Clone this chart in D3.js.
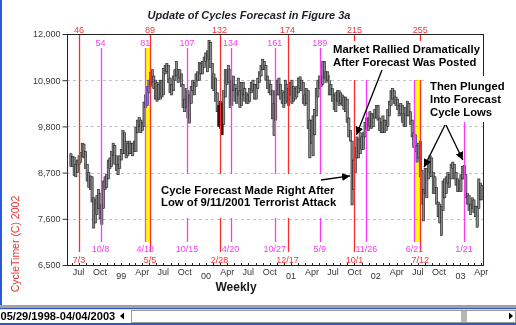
<!DOCTYPE html>
<html>
<head>
<meta charset="utf-8">
<script src="https://cdn.jsdelivr.net/npm/d3@7"></script>
<style>
  html, body { margin: 0; padding: 0; background: #fff; }
  svg { display: block; font-family: "Liberation Sans", Arial, sans-serif; }
</style>
</head>
<body>
<svg id="chart" width="516" height="325"></svg>
<script>
// ---------- data ----------
// Weekly bars (Friday weeks), each entry is [high, low]
const firstWeek = "1998-05-29";
const bars1998 = [
  [9150,8850],[9080,8850],[9070,8630],[8900,8600],[9000,8700],[9100,8900],[9180,8950],[9400,9080],
  [9380,9050],[9200,8800],[8900,8500],[8700,8350],[8620,8300],[8600,8000],[8100,7380],[8050,7500],
  [8150,7700],[8300,7850],[8200,7600],[7950,7470],[8500,7850],[8600,8300],[8650,8350],[9000,8550],
  [9050,8800],[9200,8850],[9400,9100],[9350,8900],[9100,8750],[8900,8650],[9100,8800],[9250,9000]
];
const bars1999 = [
  [9700,9150],[9650,9150],[9450,9050],[9400,9100],[9450,9150],[9400,9150],[9400,9100],[9450,9200],
  [9780,9200],[9950,9650],[10010,9800],[9950,9650],[9900,9700],[10380,9800],[10550,10250],[10750,10300],
  [10900,10600],[11080,10750],[11150,10850],[11000,10700],[10900,10450],[10850,10400],[10800,10450],[10900,10450],
  [10900,10500],[11180,10550],[11250,11050],[11300,11100],[11250,10850],[10950,10600],[10800,10550],[11000,10650],
  [11150,10900],[11350,11000],[11150,10850],[11150,10950],[11050,10750],[10800,10250],[10450,10150],[10700,10250],
  [10650,10000],[10550,9880],[10750,10350],[10900,10650],[10850,10550],[11050,10750],[11100,10900],[11320,10900],
  [11300,11050],[11350,11050],[11450,11200],[11550,11350]
];
const bars2000 = [
  [11600,11100],[11850,11400],[11800,11200],[11300,10700],[11050,10650],[10950,10400],[10600,10150],[10300,9800],
  [10400,9750],[10350,9600],[10650,9850],[11150,10500],[11150,10800],[11250,10850],[11150,10250],[10900,10300],
  [11000,10650],[10800,10400],[10700,10350],[10950,10550],[10650,10250],[10850,10300],[10850,10550],[10700,10400],
  [10600,10350],[10550,10350],[10700,10400],[10850,10600],[10900,10650],[10800,10450],[10800,10450],[10950,10700],
  [11100,10850],[11250,11000],[11400,11150],[11350,11150],[11250,10900],[11000,10700],[10900,10600],[10800,10550],
  [10650,9980],[10350,9580],[10650,9950],[10900,10550],[10950,10550],[10800,10450],[10650,10350],[10600,10250],
  [10900,10350],[10800,10400],[10700,10300],[10850,10550]
];
const bars2001 = [
  [10900,10350],[10750,10400],[10700,10450],[10750,10500],[10950,10600],[10980,10700],[10900,10650],[10850,10350],
  [10550,10300],[10700,10350],[10650,9750],[9950,9050],[9950,9400],[10050,9100],[10200,9600],[10700,10050],
  [10900,10500],[11000,10700],[11000,10750],[11350,10800],[11350,10950],[11100,10850],[11100,10900],[11000,10550],
  [10800,10550],[10700,10400],[10550,10200],[10600,10150],[10650,10400],[10650,10300],[10600,10350],[10550,10300],
  [10500,10200],[10500,10150],[10450,9900],[10000,9550],[9700,9450],[9450,7930],[9000,8300],[9300,8700],
  [9550,9050],[9500,9050],[9650,9150],[9550,9250],[9650,9250],[9900,9550],[10000,9750],[10000,9700],
  [10150,9800],[10100,9750],[10100,9800],[10200,10000]
];
const bars2002 = [
  [10300,10000],[10300,9950],[10000,9700],[9900,9650],[10050,9650],[9950,9650],[9950,9700],[10200,9800],
  [10400,10050],[10650,10300],[10700,10450],[10650,10350],[10500,10300],[10450,10200],[10300,10050],[10350,10100],
  [10300,9900],[10100,9800],[10250,9800],[10400,10050],[10350,10050],[10150,9850],[9950,9550],[9650,9300],
  [9600,9200],[9350,8950],[9400,9050],[9450,8600],[8750,7950],[8300,7550],[8800,8200],[8800,8100],
  [8950,8550],[9100,8700],[9050,8600],[8700,8200],[8600,8200],[8350,7950],[8000,7650],[7950,7500],
  [7900,7200],[8500,7800],[8550,8100],[8600,8200],[8700,8450],[8650,8350],[8900,8550],[8950,8800],
  [8900,8550],[8700,8400],[8550,8250],[8500,8250]
];
const bars2003 = [
  [8650,8250],[8850,8550],[8870,8550],[8650,8100],[8200,7950],[8150,7800],[7950,7700],[8100,7850],
  [8050,7750],[7900,7650],[7900,7400],[8550,7850],[8450,8050],[8400,8050]
];

const yTicks = [6500, 7600, 8700, 9800, 10900, 12000];
const monthNames = ["Jan","Feb","Mar","Apr","May","Jun","Jul","Aug","Sep","Oct","Nov","Dec"];

// Cycle markers: red = forecast turns, magenta = forecast lows
const redCycles = [
  {n: 46,  date: "1998-07-03"}, {n: 89,  date: "1999-05-05"}, {n: 132, date: "2000-02-28"},
  {n: 174, date: "2000-12-17"}, {n: 215, date: "2001-10-01"}, {n: 255, date: "2002-07-12"}
];
const magentaCycles = [
  {n: 54,  date: "1998-10-08"}, {n: 81,  date: "1999-04-18"}, {n: 107, date: "1999-10-15"},
  {n: 134, date: "2000-04-20"}, {n: 161, date: "2000-10-27"}, {n: 189, date: "2001-05-09"},
  {n: null, date: "2001-11-26"}, {n: null, date: "2002-06-21"}, {n: null, date: "2003-01-21"}
];
// Forecast windows (shaded) and turn window (dark bars)
const forecastWindows = [["1999-04-18","1999-05-05"], ["2002-06-21","2002-07-12"]];
const turnWindows = [["2000-02-21","2000-03-12"]];

const title = "Update of Cycles Forecast in Figure 3a";
const xTitle = "Weekly";
const credit = "CycleTimer (C) 2002";
const rangeText = "05/29/1998-04/04/2003";
const notes = {
  rally:  ["Market Rallied Dramatically", "After Forecast Was Posted"],
  plunge: ["Then Plunged", "Into Forecast", "Cycle Lows"],
  sept:   ["Cycle Forecast Made Right After", "Low of 9/11/2001 Terrorist Attack"]
};
// Arrow targets in data space
const arrowTargets = {
  rally:  {date: "2001-10-10", value: 9600},
  sept:   {date: "2001-09-12", value: 8620},
  plungeA:{date: "2002-07-28", value: 8830},
  plungeB:{date: "2003-01-11", value: 9000}
};

// ---------- setup ----------
const parse = d3.utcParse("%Y-%m-%d");
const start = parse(firstWeek);
const rows = [].concat(bars1998, bars1999, bars2000, bars2001, bars2002, bars2003)
  .map((b, i) => ({date: d3.utcWeek.offset(start, i), hi: b[0], lo: b[1]}));

const svg = d3.select("#chart");
const L = 67, R = 483, T = 34, B = 265;

const x = d3.scaleUtc().domain([parse("1998-05-12"), parse("2003-04-08")]).range([L, R]);
const y = d3.scaleLinear().domain([6500, 12000]).range([B, T]);

const RED = "#ff2a2a", RED_T = "#f03434", MAG = "#ff38ff", MAG_T = "#f040f0";

svg.append("rect").attr("width", 516).attr("height", 325).attr("fill", "#fff");

// gridlines
svg.append("g").selectAll("line").data(yTicks.filter(v => v > 6500 && v < 12000)).join("line")
  .attr("x1", L).attr("x2", R)
  .attr("y1", d => Math.round(y(d)) + 0.5).attr("y2", d => Math.round(y(d)) + 0.5)
  .attr("stroke", "#c4c4c4").attr("stroke-dasharray", "3,3");

// price bars
const inWin = (d, wins) => wins.some(w => d >= parse(w[0]) && d <= parse(w[1]));
svg.append("g").selectAll("rect").data(rows).join("rect")
  .attr("x", d => x(d.date) - 1.1)
  .attr("width", 2.2)
  .attr("y", d => y(d.hi))
  .attr("height", d => y(d.lo) - y(d.hi))
  .attr("fill", d => inWin(d.date, turnWindows) ? "#4e0606" : "#8c8c8c")
  .attr("stroke", d => inWin(d.date, turnWindows) ? "#2a0000" : "#1c1c1c")
  .attr("stroke-width", 0.6);

// shaded forecast windows: difference blend turns white to yellow, black to blue
svg.append("g").selectAll("rect").data(forecastWindows).join("rect")
  .attr("x", d => Math.round(x(parse(d[0]))) - 0.5)
  .attr("width", d => Math.round(x(parse(d[1]))) - Math.round(x(parse(d[0]))) + 1)
  .attr("y", 48).attr("height", 242 - 48)
  .attr("fill", "#0000ff")
  .style("mix-blend-mode", "difference");

// cycle lines
svg.append("g").selectAll("line").data(redCycles).join("line")
  .attr("x1", d => Math.round(x(parse(d.date))) + 0.5).attr("x2", d => Math.round(x(parse(d.date))) + 0.5)
  .attr("y1", T).attr("y2", 252).attr("stroke", RED).attr("stroke-width", 1.3);
svg.append("g").selectAll("line").data(magentaCycles).join("line")
  .attr("x1", d => Math.round(x(parse(d.date))) - 0.5).attr("x2", d => Math.round(x(parse(d.date))) - 0.5)
  .attr("y1", 48).attr("y2", 242).attr("stroke", MAG).attr("stroke-width", 1.3);

// cycle labels
const md = d3.utcFormat("%-m/%-d");
const lab = svg.append("g").attr("font-size", 9).attr("text-anchor", "middle");
lab.selectAll(".rt").data(redCycles).join("text").attr("class", "rt")
  .attr("x", d => x(parse(d.date))).attr("y", 32.5).attr("fill", RED_T).text(d => d.n);
lab.selectAll(".rb").data(redCycles).join("text").attr("class", "rb")
  .attr("x", d => x(parse(d.date))).attr("y", 262.5).attr("fill", RED_T).text(d => md(parse(d.date)));
lab.selectAll(".mt").data(magentaCycles.filter(d => d.n !== null)).join("text").attr("class", "mt")
  .attr("x", d => x(parse(d.date)) - 1).attr("y", 46).attr("fill", MAG_T).text(d => d.n);
lab.selectAll(".mb").data(magentaCycles).join("text").attr("class", "mb")
  .attr("x", d => x(parse(d.date)) - 1).attr("y", 251.5).attr("fill", MAG_T).text(d => md(parse(d.date)));

// frame
svg.append("rect").attr("x", L + 0.5).attr("y", T + 0.5).attr("width", R - L).attr("height", B - T)
  .attr("fill", "none").attr("stroke", "#222");

// y axis
const yAxis = svg.append("g").attr("transform", `translate(${L + 0.5},0)`)
  .call(d3.axisLeft(y).tickValues(yTicks).tickFormat(d3.format(",")).tickSize(5).tickPadding(2));
yAxis.select(".domain").remove();
yAxis.selectAll("line").attr("stroke", "#333");
yAxis.selectAll("text").attr("font-size", 9).attr("fill", "#3a3a3a").attr("font-family", "Liberation Sans, Arial, sans-serif");

// x axis: monthly ticks pointing up, quarter months labelled, years under January
const months = d3.utcMonth.range(parse("1998-06-01"), parse("2003-04-02"));
svg.append("g").selectAll("line").data(months).join("line")
  .attr("x1", d => Math.round(x(d)) + 0.5).attr("x2", d => Math.round(x(d)) + 0.5)
  .attr("y1", B - 2).attr("y2", B + 1).attr("stroke", "#222");
const xl = svg.append("g").attr("font-size", 9).attr("fill", "#333").attr("text-anchor", "middle");
xl.selectAll("text").data(months.filter(d => d.getUTCMonth() % 3 === 0)).join("text")
  .attr("x", d => x(d))
  .attr("y", d => d.getUTCMonth() === 0 ? 279 : 274.5)
  .text(d => d.getUTCMonth() === 0 ? d3.utcFormat("%y")(d) : monthNames[d.getUTCMonth()]);

// titles
svg.append("text").attr("x", 249).attr("y", 19).attr("text-anchor", "middle")
  .attr("font-size", 11).attr("font-weight", "bold").attr("font-style", "italic").attr("fill", "#1e1e2a")
  .text(title);
svg.append("text").attr("x", 236).attr("y", 290.5).attr("text-anchor", "middle")
  .attr("font-size", 12).attr("font-weight", "bold").attr("fill", "#1a1a1a").text(xTitle);
svg.append("text").attr("transform", "translate(15,244) rotate(-90)").attr("text-anchor", "middle")
  .attr("dy", "0.35em").attr("font-size", 10.5).attr("fill", "#e83232").text(credit);

// annotations
function note(lines, x0, y0, box, step) {
  svg.append("rect").attr("x", box[0]).attr("y", box[1]).attr("width", box[2]).attr("height", box[3]).attr("fill", "#fff");
  svg.append("text").attr("font-size", 11.3).attr("font-weight", "bold").attr("fill", "#000")
    .selectAll("tspan").data(lines).join("tspan")
    .attr("x", x0).attr("y", (d, i) => y0 + i * step).text(d => d);
}
note(notes.rally, 333, 53.3, [330, 41, 152, 39], 12.4);
note(notes.plunge, 430, 90, [427, 76, 86, 46], 13);
note(notes.sept, 161, 194.3, [158, 174, 183, 44], 11.5);

// arrows
const defs = svg.append("defs");
defs.append("marker").attr("id", "ah").attr("viewBox", "0 0 10 10").attr("refX", 10).attr("refY", 5)
  .attr("markerWidth", 8).attr("markerHeight", 8).attr("markerUnits", "userSpaceOnUse").attr("orient", "auto")
  .append("path").attr("d", "M0,0 L10,5 L0,10 z").attr("fill", "#000");
const tip = t => [x(parse(t.date)), y(t.value)];
const arrows = [
  {from: [382, 70], to: tip(arrowTargets.rally)},
  {from: [321, 180], to: tip(arrowTargets.sept)},
  {from: [445, 125], to: tip(arrowTargets.plungeA)},
  {from: [446, 125], to: tip(arrowTargets.plungeB)}
];
svg.append("g").selectAll("line").data(arrows).join("line")
  .attr("x1", d => d.from[0]).attr("y1", d => d.from[1])
  .attr("x2", d => d.to[0]).attr("y2", d => d.to[1])
  .attr("stroke", "#000").attr("stroke-width", 1.3).attr("marker-end", "url(#ah)");

// window chrome: left border, date range box and scroll bar
svg.append("rect").attr("x", 0).attr("y", 0).attr("width", 2).attr("height", 305).attr("fill", "#2b58d6");
svg.append("rect").attr("x", 0).attr("y", 305).attr("width", 516).attr("height", 3).attr("fill", "#a2a2a2");
svg.append("rect").attr("x", 0).attr("y", 308).attr("width", 516).attr("height", 1.2).attr("fill", "#3355cc");
svg.append("text").attr("x", 0.5).attr("y", 320).attr("font-size", 11.1).attr("font-weight", "bold")
  .attr("fill", "#000").text(rangeText);
svg.append("path").attr("d", "M120,316 L124,312.5 L124,319.5 z").attr("fill", "#000");
svg.append("rect").attr("x", 131.5).attr("y", 310.5).attr("width", 384).attr("height", 12)
  .attr("fill", "#fff").attr("stroke", "#9a9a9a");
svg.append("rect").attr("x", 461).attr("y", 311).attr("width", 6).attr("height", 11).attr("fill", "#b8b8b8");
svg.append("path").attr("d", "M509,312.5 L513,316 L509,319.5 z").attr("fill", "#000");
svg.append("rect").attr("x", 0).attr("y", 323).attr("width", 516).attr("height", 2).attr("fill", "#3355cc");
</script>
</body>
</html>
